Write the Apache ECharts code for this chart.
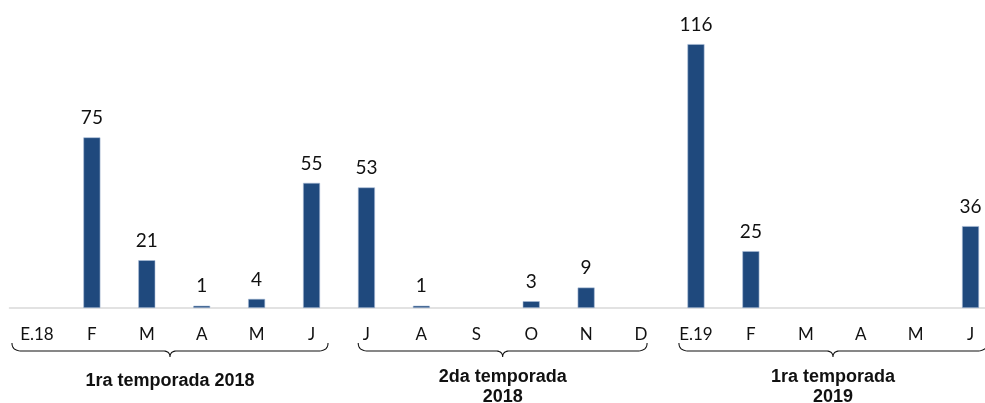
<!DOCTYPE html>
<html>
<head>
<meta charset="utf-8">
<script src="https://cdn.jsdelivr.net/npm/echarts@6/dist/echarts.min.js"></script>
<style>
html,body{margin:0;padding:0;background:#fff;overflow:hidden;width:985px;height:403px;}
#c{width:998px;height:403px;}
</style>
</head>
<body>
<div id="c"></div>
<script>
// ---- data ----
var categories = ['E.18','F','M','A','M','J','J','A','S','O','N','D','E.19','F','M','A','M','J'];
var values = [null,75,21,1,4,55,53,1,null,3,9,null,116,25,null,null,null,36];
var groupLabels = ['1ra temporada 2018','2da temporada\n2018','1ra temporada\n2019'];
// brace extents in category-index units (layout)
var braceSpans = [[-0.455,5.30],[5.85,11.11],[11.69,17.30]];

var chart = echarts.init(document.getElementById('c'), null, {renderer:'canvas'});
var option = {
  animation:false,
  grid:{left:9.5,right:0,top:12.25,bottom:95,containLabel:false},
  xAxis:{
    type:'category',
    data:categories,
    axisLine:{show:true,lineStyle:{color:'#d9d9d9',width:1.5}},
    axisTick:{show:false},
    axisLabel:{color:'#111',fontFamily:'Lato',fontSize:17,margin:18,interval:0}
  },
  yAxis:{type:'value',min:0,max:130,show:false,splitLine:{show:false}},
  series:[{
    type:'bar',
    data:values,
    barWidth:17,
    itemStyle:{color:'#1f497d',borderColor:'#a9bcd6',borderWidth:0.6},
    label:{show:true,position:'top',distance:10,color:'#111',fontFamily:'Lato',fontSize:19}
  }]
};
chart.setOption(option);

function quad(pts, p0, p1, p2){
  for (var t=1; t<=12; t++){
    var u=t/12, a=(1-u)*(1-u), b=2*(1-u)*u, c=u*u;
    pts.push([a*p0[0]+b*p1[0]+c*p2[0], a*p0[1]+b*p1[1]+c*p2[1]]);
  }
}
function drawBraces(){
  var c0 = chart.convertToPixel({xAxisIndex:0},0);
  var c1 = chart.convertToPixel({xAxisIndex:0},1);
  var step = c1-c0;
  var yTop = 343, yMid = 351, yTip = 357;
  var els = [];
  braceSpans.forEach(function(s, i){
    var x0 = c0 + step*s[0], x1 = c0 + step*s[1], xm = (x0+x1)/2;
    var pts = [[x0,yTop]];
    quad(pts,[x0,yTop],[x0,yMid],[x0+10,yMid]);
    pts.push([xm-7,yMid]);
    quad(pts,[xm-7,yMid],[xm,yMid],[xm,yTip]);
    quad(pts,[xm,yTip],[xm,yMid],[xm+7,yMid]);
    pts.push([x1-10,yMid]);
    quad(pts,[x1-10,yMid],[x1,yMid],[x1,yTop]);
    els.push({type:'polyline',shape:{points:pts},style:{fill:null,stroke:'#111',lineWidth:1.1},silent:true});
    var twoLine = groupLabels[i].indexOf('\n')>=0;
    els.push({type:'text',x:xm,y:twoLine?367:371,
      style:{text:groupLabels[i],fill:'#111',font:'bold 18px "Liberation Sans", Arial, sans-serif',
        align:'center',verticalAlign:'top',lineHeight:20},silent:true});
  });
  chart.setOption({graphic:{elements:els}});
}
drawBraces();
</script>
</body>
</html>
